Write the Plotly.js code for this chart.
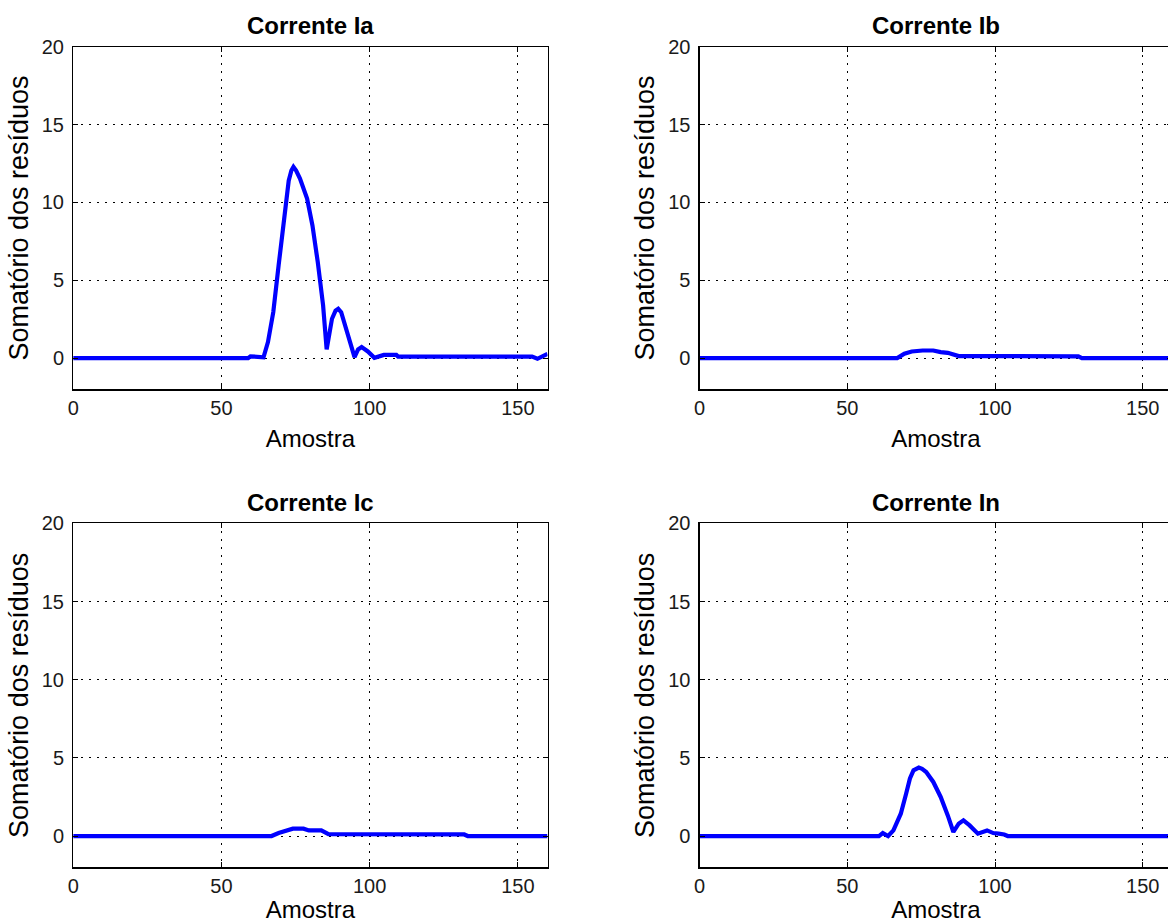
<!DOCTYPE html>
<html>
<head>
<meta charset="utf-8">
<script src="https://cdn.plot.ly/plotly-3.0.1.min.js"></script>
<style>
  html, body { margin: 0; padding: 0; overflow: hidden; background: #fff; }
  #chart { width: 1200px; height: 960px; }
</style>
</head>
<body>
<div id="chart"></div>
<script>
// ---- data ----
const titles = ['Corrente Ia', 'Corrente Ib', 'Corrente Ic', 'Corrente In'];
const xLabel = 'Amostra';
const yLabel = 'Somatório dos resíduos';
const xTicks = [0, 50, 100, 150];
const yTicks = [0, 5, 10, 15, 20];

const iaX = [0, 59, 59.8, 63.5, 64.2, 65.7, 67.5, 69.3, 71.1, 72.7, 73.6, 74.3, 75.2, 76.5, 78.9, 80.7, 82.5, 84.3, 85.5,
             87.3, 88.5, 89.4, 90.4, 91.6, 93.4, 94.9, 96.1, 97.3, 99.4, 101.6, 104.8, 109, 109.6, 154.8, 156.6, 160];
const iaY = [0, 0, 0.12, 0.12, 0.06, 1.03, 2.96, 5.96, 9.17, 11.4, 12.05, 12.28, 12.05, 11.53, 10.25, 8.53, 6.17, 3.39, 0.56,
             2.53, 3.05, 3.17, 2.95, 2.2, 1.03, 0.06, 0.56, 0.71, 0.43, 0.02, 0.21, 0.21, 0.1, 0.1, -0.04, 0.28];

const ibX = [0, 66.9, 69.3, 71.8, 75.5, 79.1, 81.6, 84, 87.7, 128.2, 129.4, 160];
const ibY = [0, 0, 0.28, 0.43, 0.49, 0.49, 0.39, 0.34, 0.13, 0.12, 0, 0];

const icX = [0, 66.9, 69.3, 71.7, 74.1, 77.7, 79.5, 83.7, 86.1, 131.9, 133.1, 160];
const icY = [0, 0, 0.19, 0.36, 0.47, 0.47, 0.36, 0.36, 0.12, 0.1, 0, 0];

const inX = [0, 60.7, 62, 63.8, 65.6, 68.1, 69.9, 71.2, 72.4, 73.3, 74.2, 75.3, 76.7, 79.1, 81.6, 84, 85.9,
             87.7, 89.3, 91.4, 94.2, 97.3, 99.4, 101.2, 103.1, 104.3, 160];
const inY = [0, 0, 0.19, 0, 0.36, 1.43, 2.71, 3.68, 4.2, 4.33, 4.38, 4.3, 4.1, 3.46, 2.5, 1.32, 0.26,
             0.79, 1.0, 0.68, 0.15, 0.36, 0.19, 0.15, 0.1, 0, 0];

const seriesX = [iaX, ibX, icX, inX];
const seriesY = [iaY, ibY, icY, inY];

// ---- layout geometry (canvas is larger than the viewport, like the cropped original) ----
const W = 1200, H = 960;
const colDomains = [[73.2 / W, 547.5 / W], [699.6 / W, 1172.3 / W]];
const rowDomains = [[1 - 389.3 / H, 1 - 46.7 / H], [1 - 867.3 / H, 1 - 523.4 / H]];
const titleY = [1 - 25.5 / H, 1 - 502.2 / H];
const xTitleStandoff = [12, 3];

const font = 'Liberation Sans, Arial, Helvetica, sans-serif';
const traces = [];
const layout = {
  width: W, height: H,
  margin: { l: 0, r: 0, t: 0, b: 0 },
  paper_bgcolor: '#ffffff',
  plot_bgcolor: '#ffffff',
  showlegend: false,
  font: { family: font, color: '#000000', size: 20 },
  annotations: []
};

for (let i = 0; i < 4; i++) {
  const row = Math.floor(i / 2), col = i % 2;
  const n = i === 0 ? '' : String(i + 1);
  traces.push({
    type: 'scatter', mode: 'lines',
    x: seriesX[i], y: seriesY[i],
    xaxis: 'x' + n, yaxis: 'y' + n,
    line: { color: '#0000ff', width: 4.2 },
    hoverinfo: 'x+y'
  });
  const common = {
    showline: true, linecolor: '#000000', linewidth: 1.2,
    mirror: 'ticks',
    ticks: 'inside', ticklen: 5, tickcolor: '#000000', tickwidth: 1,
    showgrid: true, gridcolor: '#000000', gridwidth: 1, griddash: '2px,6px',
    zeroline: false,
    tickfont: { family: font, size: 20, color: '#1a1a1a' }
  };
  layout['xaxis' + n] = Object.assign({}, common, {
    domain: colDomains[col], anchor: 'y' + n,
    range: [0, 160], tickvals: xTicks, ticktext: xTicks.map(String),
    ticklabelstandoff: 0,
    title: { text: xLabel, font: { family: font, size: 24, color: '#000000' }, standoff: xTitleStandoff[row] }
  });
  layout['yaxis' + n] = Object.assign({}, common, {
    domain: rowDomains[row], anchor: 'x' + n,
    range: [-2, 20], tickvals: yTicks, ticktext: yTicks.map(String),
    ticklabelstandoff: 4,
    title: { text: yLabel, font: { family: font, size: 27, color: '#000000' }, standoff: 5 }
  });
  layout.annotations.push({
    text: '<b>' + titles[i] + '</b>',
    xref: 'paper', yref: 'paper',
    x: (colDomains[col][0] + colDomains[col][1]) / 2, y: titleY[row],
    xanchor: 'center', yanchor: 'middle',
    showarrow: false,
    font: { family: font, size: 24, color: '#000000' }
  });
}

Plotly.newPlot('chart', traces, layout, { staticPlot: true, displayModeBar: false });
</script>
</body>
</html>
